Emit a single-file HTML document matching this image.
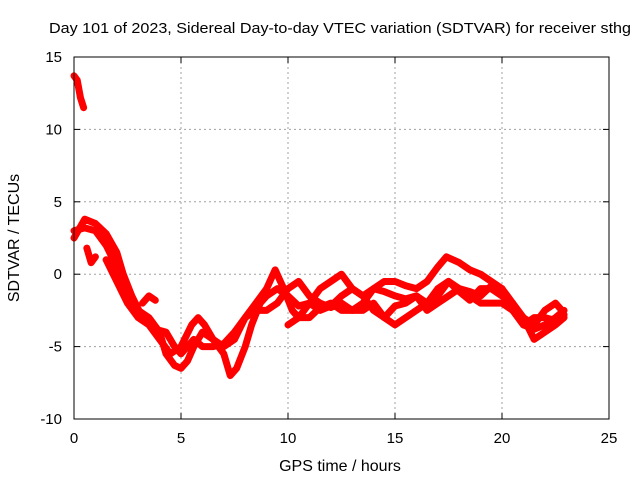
<!DOCTYPE html>
<html><head><meta charset="utf-8"><style>
body{margin:0;background:#fff}
svg{display:block;font-family:"Liberation Sans",sans-serif}
</style></head><body>
<svg id="c" width="640" height="480">
<rect width="640" height="480" fill="#fff"/>
<text x="49" y="33" font-size="15" textLength="582" lengthAdjust="spacingAndGlyphs">Day 101 of 2023, Sidereal Day-to-day VTEC variation (SDTVAR) for receiver sthg</text>
<g id="grid"></g><g id="series"></g><g id="axes"></g>
<text x="340" y="471" text-anchor="middle" font-size="16">GPS time / hours</text>
<text transform="translate(19,238) rotate(-90)" text-anchor="middle" font-size="16">SDTVAR / TECUs</text>
</svg>
<script>
const xTicks=[0,5,10,15,20,25];
const yTicks=[-10,-5,0,5,10,15];
const track0=[[0,13.7],[0.15,13.4],[0.3,12.2],[0.45,11.5]];
const track1=[[0,2.5],[0.5,3.8],[1,3.5],[1.5,2.8],[2,1.5],[2.3,0],[2.7,-1.5],[3.2,-3],[3.8,-3.8],[4.3,-4],[4.7,-5],[5,-5.5],[5.3,-5],[5.6,-4.5],[6,-5],[6.5,-5],[7,-4.8],[7.5,-4],[8,-3],[8.5,-2],[9,-1],[9.4,0.3],[9.8,-1],[10.2,-2.5],[10.5,-3],[11,-2],[11.5,-1],[12,-0.5],[12.5,0],[13,-1],[13.5,-1.5],[14,-1],[14.5,-0.5],[15,-0.5],[15.5,-0.8],[16,-1],[16.5,-0.5],[17,0.5],[17.4,1.2],[18,0.8],[18.5,0.3],[19,0],[19.5,-0.5],[20,-1],[20.5,-2],[21,-3.5],[21.5,-3.8],[22,-3.5],[22.5,-3],[22.9,-2.5]];
const track2=[[0,3],[0.5,3.2],[1,3],[1.5,2],[2,0.5],[2.5,-1],[3,-2.5],[3.5,-3],[4,-4],[4.3,-5.5],[4.7,-6.3],[5,-6.5],[5.3,-6],[5.6,-5],[6,-4],[6.5,-4.5],[7,-5],[7.5,-4.5],[8,-3],[8.5,-2.5],[9,-2.5],[9.5,-2],[10,-1],[10.5,-0.5],[11,-1.5],[11.5,-2],[12,-2.3],[12.5,-2],[13,-2.5],[13.5,-2.5],[14,-2],[14.5,-3],[15,-3.5],[15.5,-3],[16,-2.5],[16.5,-2],[17,-1],[17.5,-0.5],[18,-1],[18.5,-1.5],[19,-2],[19.5,-2],[20,-2],[20.5,-2.5],[21,-3],[21.5,-4.5],[22,-4],[22.5,-3.5],[22.9,-3]];
const track3=[[1.5,1],[2,-0.5],[2.5,-2],[3,-3],[3.5,-3.5],[4,-4.5],[4.5,-5.5],[5,-5],[5.5,-3.5],[5.8,-3],[6.1,-3.5],[6.5,-4.5],[7,-5.5],[7.3,-7],[7.6,-6.5],[8,-5],[8.3,-3.5],[8.7,-2],[9,-1.5],[9.5,-1],[10,-1.5],[10.5,-2.2],[11,-2],[11.5,-2.5],[12,-2.2],[12.5,-1.5],[13,-1],[13.5,-1.5],[14,-2.5],[14.5,-3],[15,-2.2],[15.5,-2],[16,-1.5],[16.5,-2],[17,-1.5],[17.5,-0.5],[18,-1.2],[18.5,-1.8],[19,-1],[19.5,-1],[20,-1.5],[20.5,-2],[21,-3],[21.5,-3.5],[22,-2.5],[22.5,-2],[22.8,-2.5]];
const track4=[[10,-3.5],[10.5,-3],[11,-3],[11.5,-2.3],[12,-2],[12.5,-2.5],[13,-2.5],[13.5,-2],[14,-1],[14.5,-1.2],[15,-1.5],[15.5,-1.7],[16,-1.5],[16.5,-2.5],[17,-2],[17.5,-1.5],[18,-1],[18.5,-1.2],[19,-1.5],[19.5,-0.8],[20,-1],[20.5,-2.5],[21,-3.5],[21.5,-3],[22,-3],[22.5,-3.2],[22.9,-2.8]];
const track5=[[0.6,1.8],[0.8,0.8],[1,1.2]];
const track6=[[3.2,-2],[3.5,-1.5],[3.8,-1.8]];
const tracks=[track0,track1,track2,track3,track4,track5,track6];
const X0=74,X1=609,Y0=419,Y1=57,xmin=0,xmax=25,ymin=-10,ymax=15;
const xs=v=>X0+(v-xmin)/(xmax-xmin)*(X1-X0);
const ys=v=>Y0-(v-ymin)/(ymax-ymin)*(Y0-Y1);
const NS='http://www.w3.org/2000/svg';
function mk(t,a,p){const e=document.createElementNS(NS,t);for(const k in a)e.setAttribute(k,a[k]);p.appendChild(e);return e;}
const grid=document.getElementById('grid'),axes=document.getElementById('axes'),ser=document.getElementById('series');
xTicks.forEach(t=>{const x=xs(t);
 if(t>xmin&&t<xmax){const g=mk('line',{x1:x,x2:x,y1:Y1,y2:Y0,stroke:'#a0a0a0','stroke-dasharray':'2,3'},grid);
 
 }
 mk('line',{x1:x,x2:x,y1:Y0,y2:Y0-6,stroke:'#000'},axes);mk('line',{x1:x,x2:x,y1:Y1,y2:Y1+6,stroke:'#000'},axes);
 const l=mk('text',{x:x,y:443,'text-anchor':'middle','font-size':15},axes);l.textContent=t;
 
 });
yTicks.forEach(t=>{const y=ys(t);
 if(t>ymin&&t<ymax){const g=mk('line',{x1:X0,x2:X1,y1:y,y2:y,stroke:'#a0a0a0','stroke-dasharray':'2,3'},grid);
 
 }
 mk('line',{x1:X0,x2:X0+6,y1:y,y2:y,stroke:'#000'},axes);mk('line',{x1:X1,x2:X1-6,y1:y,y2:y,stroke:'#000'},axes);
 const l=mk('text',{x:62,y:y+5,'text-anchor':'end','font-size':15},axes);l.textContent=t;
 
 });
const fr=mk('rect',{x:X0,y:Y1,width:X1-X0,height:Y0-Y1,fill:'none',stroke:'#000'},axes);


tracks.forEach((tr,i)=>{const p=mk('polyline',{points:tr.map(d=>xs(d[0])+','+ys(d[1])).join(' '),fill:'none',stroke:'#ff0000','stroke-width':7,'stroke-linejoin':'round','stroke-linecap':'round'},ser);
 
 });
</script>
</body></html>
